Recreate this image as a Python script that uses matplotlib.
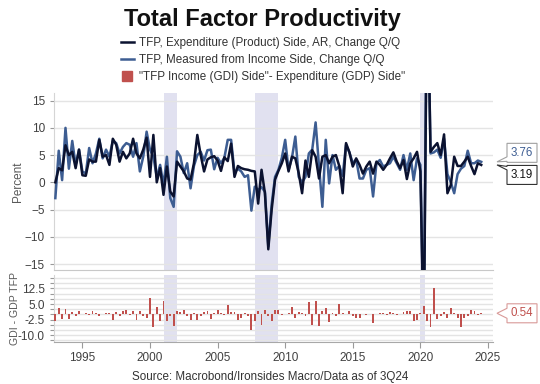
import numpy as np
import matplotlib
matplotlib.use("Agg")
import matplotlib.pyplot as plt
from matplotlib.patches import Polygon
from matplotlib.lines import Line2D

plt.rcParams['font.family'] = ['Liberation Sans', 'DejaVu Sans']

# ---------------- data (quarterly, 1993Q1 .. 2024Q3) ----------------
start_year = 1993
expenditure = [
    0.0, 2.6, 2.2, 6.8,      # 1993
    5.0, 5.6, 2.6, 6.0,      # 1994
    1.3, 1.2, 4.2, 3.8,      # 1995
    3.8, 7.8, 4.7, 5.0,      # 1996
    3.2, 8.0, 6.9, 3.8,      # 1997
    5.6, 4.4, 5.3, 8.0,      # 1998
    5.3, 4.4, 6.0, 8.2,      # 1999
    1.0, 8.7, 0.0, 2.6,      # 2000
    -2.3, 2.9, -1.7, -2.6,   # 2001
    3.8, 2.9, 2.0, 0.7,      # 2002
    0.5, 3.5, 8.7, 5.0,      # 2003
    2.0, 4.2, 4.6, 4.8,      # 2004
    4.0, 2.1, 4.6, 3.9,      # 2005
    7.1, 1.0, 3.0, 2.6,      # 2006
    2.4, 2.3, 2.1, 2.0,      # 2007
    -3.9, 2.3, -2.0, -12.3,  # 2008
    -5.0, 0.5, 2.1, 3.5,     # 2009
    5.3, 2.0, 4.7, 4.4,      # 2010
    1.7, -2.0, 4.0, 1.0,     # 2011
    5.9, 4.7, 0.7, 4.7,      # 2012
    5.0, 3.5, 4.7, 5.0,      # 2013
    3.0, -2.0, 7.2, 5.5,     # 2014
    2.9, 4.4, 3.2, 1.6,      # 2015
    2.9, 3.8, 1.6, 3.8,      # 2016
    3.2, 2.3, 3.2, 4.4,      # 2017
    5.5, 3.8, 2.6, 4.1,      # 2018
    0.6, 3.5, 4.4, 5.6,      # 2019
    2.0, -30.0, 40.0, 5.6,   # 2020
    6.5, 7.2, 5.0, 8.8,      # 2021
    -2.0, -0.5, 4.7, 3.0,    # 2022
    3.0, 3.8, 4.7, 3.0,      # 2023
    1.5, 3.5, 3.19,          # 2024
]
income = [
    -2.9, 5.8, 0.4, 10.0,    # 1993
    2.5, 7.6, 3.2, 6.0,      # 1994
    2.0, 1.6, 6.3, 3.5,      # 1995
    5.3, 8.0, 4.4, 6.0,      # 1996
    4.7, 7.6, 7.2, 5.3,      # 1997
    6.5, 7.2, 6.9, 4.7,      # 1998
    7.2, 2.0, 4.7, 9.3,      # 1999
    6.0, 4.7, 1.0, 3.2,      # 2000
    -0.5, 4.7, -2.9, -4.5,   # 2001
    5.7, 4.7, 1.7, 3.5,      # 2002
    -1.1, 3.0, 5.0, 5.6,     # 2003
    4.0, 5.9, 6.0, 2.4,      # 2004
    4.5, 3.5, 4.5, 7.8,      # 2005
    7.8, 1.8, 2.5, 2.0,      # 2006
    1.0, 1.3, -5.2, -0.8,    # 2007
    -1.4, -0.9, -1.7, -11.8, # 2008
    -4.0, 1.0, 2.3, 4.5,     # 2009
    7.8, 2.3, 4.5, 8.4,      # 2010
    1.0, 0.0, 1.0, 5.3,      # 2011
    6.0, 11.0, 3.0, -4.5,    # 2012
    7.8, -0.2, 5.0, 2.3,     # 2013
    3.0, 1.2, 6.9, 5.5,      # 2014
    3.5, 4.2, 0.7, 0.7,      # 2015
    2.3, 2.6, -2.6, 3.5,     # 2016
    4.1, 2.9, 3.2, 3.5,      # 2017
    4.7, 3.5, 2.3, 5.0,      # 2018
    2.3, 5.3, 0.4, 4.4,      # 2019
    3.2, -28.0, 42.0, 5.3,   # 2020
    5.5, 6.0, 4.5, 8.0,      # 2021
    1.5, 0.0, -2.0, 1.5,     # 2022
    2.5, 3.0, 5.8, 3.5,      # 2023
    3.5, 4.0, 3.76,          # 2024
]
gap = [
    -3.0, 3.0, -2.0, 2.5,    # 1993
    -2.0, 1.0, -1.0, 1.5,    # 1994
    0.3, 0.5, -0.5, 1.5,     # 1995
    0.5, -0.8, 0.3, 0.5,     # 1996
    0.8, -2.5, 1.0, -1.0,    # 1997
    1.8, 2.0, -0.5, 1.5,     # 1998
    -2.5, 1.5, -1.0, -1.5,   # 1999
    8.0, -6.0, 3.5, -3.0,    # 2000
    6.5, -3.0, -1.0, -5.5,   # 2001
    1.5, 1.0, 2.0, -1.0,     # 2002
    -2.5, 0.5, -2.5, -1.0,   # 2003
    1.0, 1.5, -2.0, 0.5,     # 2004
    2.0, 0.5, -0.5, 4.5,     # 2005
    1.0, 1.0, -2.5, -1.5,    # 2006
    0.5, -1.0, -7.5, -3.0,   # 2007
    1.5, -5.0, 2.0, -1.0,    # 2008
    -3.0, 2.0, 2.0, -0.5,    # 2009
    0.3, 0.5, 3.5, -1.5,     # 2010
    1.0, 0.5, -1.0, 6.0,     # 2011
    -5.0, 6.5, -5.5, 1.5,    # 2012
    3.0, -3.5, 0.5, -1.0,    # 2013
    5.0, 0.5, 0.3, 1.5,      # 2014
    -1.0, -1.5, -1.5, 0.3,   # 2015
    -0.5, 0.2, -4.0, 0.2,    # 2016
    0.5, 0.8, -0.5, 1.2,     # 2017
    0.5, -0.5, 0.3, 1.0,     # 2018
    1.5, 1.5, -3.0, -2.5,    # 2019
    0.5, 4.0, -3.0, -6.0,    # 2020
    12.5, -2.0, -1.0, 1.0,   # 2021
    -1.5, 3.0, 0.5, -1.5,    # 2022
    -6.0, -1.5, -1.0, 2.0,   # 2023
    1.5, -0.5, 0.54,         # 2024
]
recessions = [(2001.0, 2002.0), (2007.75, 2009.5), (2020.0, 2020.35)]
x_ticks = [1995, 2000, 2005, 2010, 2015, 2020, 2025]
top_ticks = [-15, -10, -5, 0, 5, 10, 15]
bottom_grid = [-12.5, -10.0, -7.5, -5.0, -2.5, 0.0, 2.5, 5.0, 7.5, 10.0, 12.5, 15.0, 17.5]
bottom_labelled = [-10.0, -2.5, 5.0, 12.5]

title = "Total Factor Productivity"
label_exp = "TFP, Expenditure (Product) Side, AR, Change Q/Q"
label_inc = "TFP, Measured from Income Side, Change Q/Q"
label_gap = "\"TFP Income (GDI) Side\"- Expenditure (GDP) Side\""
source = "Source: Macrobond/Ironsides Macro/Data as of 3Q24"

# ---------------- styling ----------------
C_EXP = "#0b1230"
C_INC = "#3d5d92"
C_GAP = "#c0504d"
C_SHADE = "#e1e1f0"
C_GRID = "#e4e4e4"
C_TXT = "#404040"

n = len(expenditure)
dates = start_year + np.arange(n) / 4.0

W, H = 540, 384
fig = plt.figure(figsize=(W / 100, H / 100), dpi=100)
left, right = 54, 493
ax1 = fig.add_axes([left / W, 1 - 270 / H, (right - left) / W, 177 / H])
ax2 = fig.add_axes([left / W, 1 - 342 / H, (right - left) / W, 67 / H], sharex=ax1)

xlim = (1992.9, 2025.37)

for ax in (ax1, ax2):
    for a, b in recessions:
        ax.axvspan(a, b, color=C_SHADE, lw=0, zorder=0)
    for s in ("top", "right"):
        ax.spines[s].set_visible(False)
    ax.spines["left"].set_color("#d5d5d5")
    ax.spines["bottom"].set_color("#c8c8c8")
    ax.tick_params(axis="both", colors="#9a9a9a", labelcolor=C_TXT, labelsize=8.5,
                   length=3, width=0.8)
    ax.set_axisbelow(True)

# top panel
ax1.plot(dates, income, color=C_INC, lw=1.8, zorder=3)
ax1.plot(dates, expenditure, color=C_EXP, lw=1.8, zorder=4)
ax1.set_ylim(-16.1, 16.4)
ax1.set_yticks(top_ticks)
ax1.yaxis.grid(True, color=C_GRID, lw=1.0)
ax1.set_xlim(*xlim)
ax1.tick_params(axis="x", bottom=False, labelbottom=False)
ax1.set_ylabel("Percent", color="#595959", fontsize=8.5)

# bottom panel
ax2.bar(dates, gap, width=0.14, color=C_GAP, zorder=3)
ax2.set_ylim(-13.3, 19.0)
ax2.set_yticks(bottom_grid)
ax2.set_yticklabels([f"{v:.1f}" if v in bottom_labelled else "" for v in bottom_grid])
ax2.yaxis.grid(True, color=C_GRID, lw=1.0)
ax2.set_xticks(x_ticks)
ax2.set_xticklabels([str(v) for v in x_ticks])
ax2.tick_params(axis="x", length=4)
ax2.set_xlim(*xlim)
ax2.set_ylabel("GDI - GDP TFP", color="#595959", fontsize=7.6)
ax2.spines["bottom"].set_color("#a8a8a8")

# ylabel positions (axes fraction)
ax1.yaxis.set_label_coords(-0.068, 0.5)
ax2.yaxis.set_label_coords(-0.078, 0.5)

# title, legend, source
fig.text(262 / W, 1 - 26 / H, title, ha="center", va="baseline",
         fontsize=17, fontweight="bold", color="#111111")
handles = [Line2D([], [], color=C_EXP, lw=1.8),
           Line2D([], [], color=C_INC, lw=1.8),
           Line2D([], [], color=C_GAP, lw=0, marker="s", markersize=6.5)]
leg = fig.legend(handles, [label_exp, label_inc, label_gap], loc="upper left",
                 bbox_to_anchor=(121 / W, 1 - 37 / H), frameon=False, fontsize=8.4,
                 handlelength=1.1, handleheight=0.8, handletextpad=0.45,
                 labelspacing=0.42, borderpad=0, borderaxespad=0)
for t in leg.get_texts():
    t.set_color("#333333")
fig.text(270 / W, 1 - 377 / H, source, ha="center", va="center",
         fontsize=8.4, color="#333333")

# value tags on the right
inv = fig.transFigure.inverted()


def tag(ax, value, text, tcolor, ecolor, center_dy):
    fig.canvas.draw()
    _, yd = ax.transData.transform((ax.get_xlim()[1], value))
    tip_x = 497
    bx0, bx1 = 507, 537
    cy = yd + center_dy
    by0, by1 = cy - 9.5, cy + 9.5
    base_lo = max(by0 + 1, yd - 5)
    base_hi = min(by1 - 1, yd + 5)
    pts = [(bx0, by0), (bx1, by0), (bx1, by1), (bx0, by1),
           (bx0, base_hi), (tip_x, yd), (bx0, base_lo)]
    pts_f = [inv.transform(p) for p in pts]
    fig.add_artist(Polygon(pts_f, closed=True, facecolor="white", edgecolor=ecolor,
                           lw=0.8, transform=fig.transFigure, zorder=10))
    cx, cyf = inv.transform(((bx0 + bx1) / 2, cy))
    fig.text(cx, cyf, text, ha="center", va="center", fontsize=8.3,
             color=tcolor, zorder=11)


tag(ax1, income[-1], f"{income[-1]:.2f}", C_INC, "#a0a0a0", 9)
tag(ax1, expenditure[-1], f"{expenditure[-1]:.2f}", "#111111", "#333333", -10)
tag(ax2, gap[-1], f"{gap[-1]:.2f}", C_GAP, "#d99a98", 0)

fig.savefig("out.png", dpi=100)
